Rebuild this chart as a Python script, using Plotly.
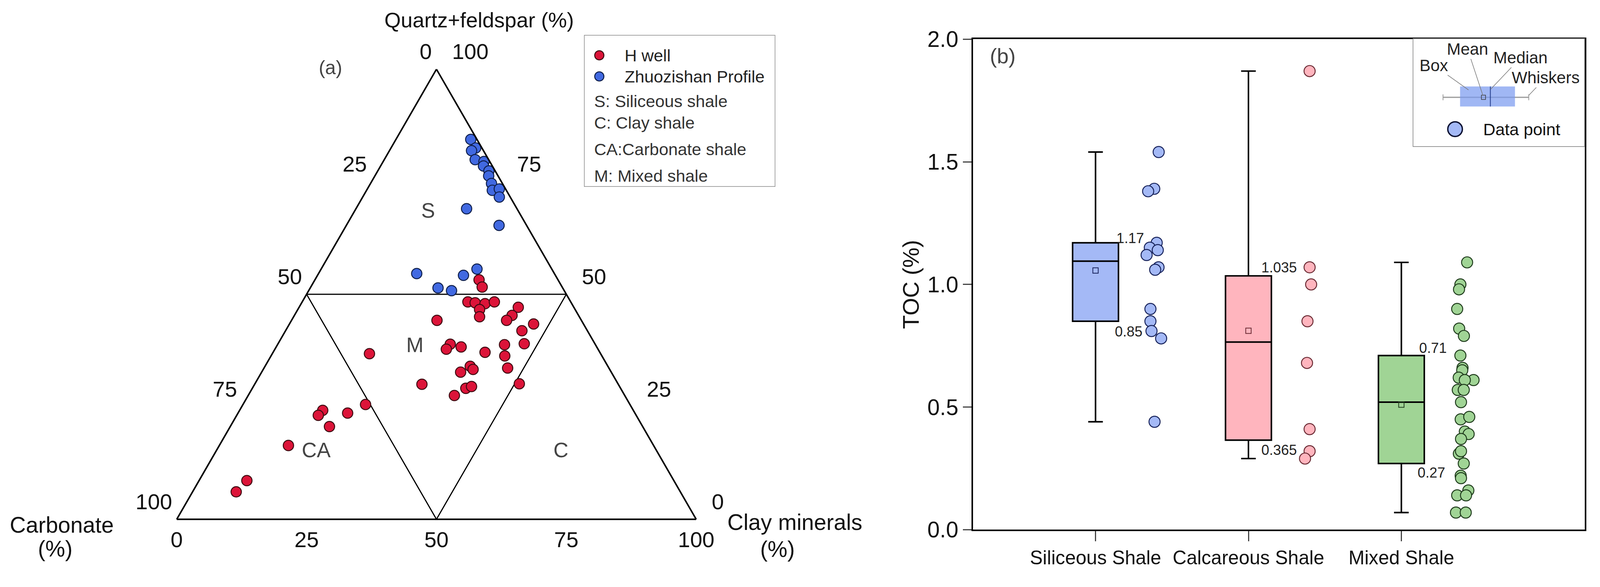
import plotly.graph_objects as go

FONT = "Liberation Sans, Arial, sans-serif"

# ---------------- (a) ternary diagram, values in % ----------------
hwell_qf = [53.2, 51.6, 48.3, 48.1, 47.9, 48.3, 46.6, 45.0, 47.1, 45.3, 44.2, 43.4, 41.9,
            44.2, 38.9, 37.8, 38.3, 37.1, 38.8, 36.3, 39.0, 36.8, 33.6, 32.7, 34.0, 33.3,
            30.1, 30.0, 29.1, 29.5, 27.5, 25.5, 24.2, 23.1, 23.6, 20.6, 16.4, 8.6, 6.1]
hwell_carb = [15.2, 15.4, 19.8, 18.5, 16.7, 14.7, 18.4, 19.2, 10.7, 12.8, 14.4, 9.6, 12.6,
              27.8, 27.9, 29.2, 26.1, 22.1, 17.5, 18.7, 13.6, 44.5, 19.5, 29.0, 26.5, 26.3,
              19.0, 37.8, 29.8, 28.5, 32.8, 50.9, 59.8, 61.2, 55.3, 60.3, 70.3, 82.2, 85.5]
hwell_clay = [31.6, 33.0, 31.9, 33.4, 35.4, 37.0, 35.0, 35.8, 42.2, 41.9, 41.4, 47.0, 45.5,
              28.0, 33.2, 33.0, 35.6, 40.8, 43.7, 45.0, 47.4, 18.7, 46.9, 38.3, 39.5, 40.4,
              50.9, 32.2, 41.1, 42.0, 39.7, 23.6, 16.0, 15.7, 21.1, 19.1, 13.3, 9.2, 8.4]

zzs_qf = [84.4, 82.5, 81.9, 79.9, 79.5, 78.5, 77.4, 76.3, 74.6, 73.1, 73.4, 71.6, 69.0,
          65.3, 54.6, 51.4, 50.8, 54.2, 55.6]
zzs_carb = [1.2, 1.2, 2.3, 2.6, 1.1, 1.7, 1.2, 1.8, 2.1, 2.7, 1.2, 2.1, 9.7,
            5.3, 26.5, 24.0, 21.7, 17.7, 14.4]
zzs_clay = [14.4, 16.3, 15.8, 17.5, 19.4, 19.8, 21.4, 21.9, 23.3, 24.2, 25.4, 26.3, 21.3,
            29.4, 18.9, 24.6, 27.5, 28.1, 30.0]

# inner triangle separating the four shale types
part_qf = [50, 50, 0, 50]
part_carb = [50, 0, 50, 50]
part_clay = [0, 50, 50, 0]

region_names = ["S", "M", "CA", "C"]
region_qf = [68.2, 38.3, 14.9, 14.9]
region_carb = [17.5, 35.0, 65.7, 18.6]
region_clay = [14.3, 26.7, 19.4, 66.5]

tern_ticks = [0, 25, 50, 75, 100]

legend_a = ["S: Siliceous shale", "C: Clay shale", "CA:Carbonate shale", "M: Mixed shale"]

# ---------------- (b) TOC box plot ----------------
groups = ["Siliceous Shale", "Calcareous Shale", "Mixed Shale"]
group_pos = [1, 2, 3]
toc_min = [0.44, 0.29, 0.07]
toc_q1 = [0.85, 0.365, 0.27]
toc_median = [1.095, 0.765, 0.52]
toc_q3 = [1.17, 1.035, 0.71]
toc_max = [1.54, 1.87, 1.09]
toc_mean = [1.057, 0.811, 0.51]
q1_text = ["0.85", "0.365", "0.27"]
q3_text = ["1.17", "1.035", "0.71"]

sil_toc = [1.54, 1.39, 1.38, 1.17, 1.15, 1.14, 1.12, 1.07, 1.06, 0.90, 0.85, 0.81, 0.78, 0.44]
sil_dx = [0.413, 0.384, 0.344, 0.400, 0.355, 0.407, 0.334, 0.412, 0.390, 0.359, 0.359,
          0.366, 0.429, 0.386]
cal_toc = [1.87, 1.07, 1.00, 0.85, 0.68, 0.41, 0.32, 0.29]
cal_dx = [0.40, 0.40, 0.41, 0.386, 0.383, 0.40, 0.40, 0.37]
mix_toc = [1.09, 1.00, 0.98, 0.90, 0.82, 0.79, 0.71, 0.66, 0.65, 0.62, 0.61, 0.61, 0.57,
           0.57, 0.52, 0.45, 0.46, 0.40, 0.39, 0.37, 0.31, 0.32, 0.27, 0.22, 0.21, 0.16,
           0.14, 0.14, 0.07, 0.07]
mix_dx = [0.43, 0.386, 0.377, 0.365, 0.378, 0.409, 0.386, 0.40, 0.398, 0.375, 0.472,
          0.415, 0.369, 0.408, 0.39, 0.388, 0.444, 0.415, 0.44, 0.39, 0.376, 0.39, 0.408,
          0.388, 0.39, 0.438, 0.365, 0.423, 0.357, 0.421]

fills = ["#A4B9F6", "#FFB5BE", "#A0D495"]
edges = ["#17225A", "#6A2A33", "#1F3B1C"]
RED, RED_EDGE = "#DC1439", "#3D0A10"
BLUE, BLUE_EDGE = "#4169E1", "#0E1E4A"
CLEAR = "rgba(0,0,0,0)"

# page geometry: the shot is ~1.7% larger than css pixels and the body has an 8px margin
S = 1.0167
W, H = 4083, 1469


def px(X):
    return (X / S - 8) / W


def py(Y):
    return 1 - (Y / S - 8) / H


def k(v):
    return v / S


fig = go.Figure()

# ternary
fig.add_trace(go.Scatterternary(a=part_qf, b=part_carb, c=part_clay, mode="lines",
                                line=dict(color="black", width=k(3)), hoverinfo="skip"))
fig.add_trace(go.Scatterternary(a=hwell_qf, b=hwell_carb, c=hwell_clay, mode="markers",
                                name="H well",
                                marker=dict(color=RED, size=k(27), line=dict(color=RED_EDGE, width=k(2.5)))))
fig.add_trace(go.Scatterternary(a=zzs_qf, b=zzs_carb, c=zzs_clay, mode="markers",
                                name="Zhuozishan Profile",
                                marker=dict(color=BLUE, size=k(27), line=dict(color=BLUE_EDGE, width=k(2.5)))))
fig.add_trace(go.Scatterternary(a=region_qf, b=region_carb, c=region_clay, mode="text",
                                text=region_names, hoverinfo="skip",
                                textfont=dict(size=k(54), color="#444", family=FONT)))

# edge labels: carbonate on the left edge, clay on the bottom, quartz on the right
tick_font = dict(size=k(57), color="#111", family=FONT)
fig.add_trace(go.Scatterternary(a=[100 - t for t in tern_ticks], b=tern_ticks,
                                c=[0] * len(tern_ticks), mode="markers+text",
                                text=[str(t) for t in tern_ticks], textposition="top left",
                                marker=dict(size=k(17.6), color=CLEAR), textfont=tick_font,
                                cliponaxis=False, hoverinfo="skip"))
fig.add_trace(go.Scatterternary(a=[0] * len(tern_ticks), b=[100 - t for t in tern_ticks],
                                c=tern_ticks, mode="markers+text",
                                text=[str(t) for t in tern_ticks], textposition="bottom center",
                                marker=dict(size=k(46), color=CLEAR), textfont=tick_font,
                                cliponaxis=False, hoverinfo="skip"))
fig.add_trace(go.Scatterternary(a=tern_ticks, b=[0] * len(tern_ticks),
                                c=[100 - t for t in tern_ticks], mode="markers+text",
                                text=["\u2002" + str(t) for t in tern_ticks],
                                textposition="top right",
                                marker=dict(size=k(17.6), color=CLEAR), textfont=tick_font,
                                cliponaxis=False, hoverinfo="skip"))

# legend of panel (a), drawn in its own small axes
fig.add_trace(go.Scatter(x=[0.08, 0.08], y=[0.866, 0.727], mode="markers",
                         marker=dict(color=[RED, BLUE], size=k(24),
                                     line=dict(color=[RED_EDGE, BLUE_EDGE], width=k(2.5))),
                         xaxis="x2", yaxis="y2", hoverinfo="skip"))

# box plots
for i, g in enumerate(groups):
    fig.add_trace(go.Box(x=[group_pos[i]], q1=[toc_q1[i]], median=[toc_median[i]],
                         q3=[toc_q3[i]], lowerfence=[toc_min[i]], upperfence=[toc_max[i]],
                         name=g, width=0.3, whiskerwidth=0.32, fillcolor=fills[i],
                         line=dict(color="black", width=k(4)), boxpoints=False,
                         hoverinfo="skip"))
    fig.add_trace(go.Scatter(x=[group_pos[i]], y=[toc_mean[i]], mode="markers",
                             marker=dict(symbol="square-open", size=k(14), color=edges[i],
                                         line=dict(width=k(2))), hoverinfo="skip"))

for vals, dx, i in [(sil_toc, sil_dx, 0), (cal_toc, cal_dx, 1), (mix_toc, mix_dx, 2)]:
    fig.add_trace(go.Scatter(x=[group_pos[i] + d for d in dx], y=vals, mode="markers",
                             marker=dict(color=fills[i], size=k(29),
                                         line=dict(color=edges[i], width=k(2.5)))))

# inset legend of panel (b)
fig.add_trace(go.Scatter(x=[0.246], y=[0.163], mode="markers",
                         marker=dict(color=fills[0], size=k(38),
                                     line=dict(color="#0B1030", width=k(3.5))),
                         xaxis="x3", yaxis="y3", hoverinfo="skip"))

hide_ticks = dict(showgrid=False, showline=True, linecolor="black", linewidth=k(4), ticks="",
                  showticklabels=False, title=dict(text=""), min=0)

annotations = [
    dict(text="Quartz+feldspar (%)", x=px(1247), y=py(52), font=dict(size=k(55))),
    dict(text="Carbonate", x=px(161), y=py(1365), font=dict(size=k(58))),
    dict(text="(%)", x=px(144), y=py(1427), font=dict(size=k(58))),
    dict(text="Clay minerals", x=px(2068), y=py(1358), font=dict(size=k(58))),
    dict(text="(%)", x=px(2024), y=py(1428), font=dict(size=k(58))),
    dict(text="(a)", x=px(860), y=py(175), font=dict(size=k(50), color="#444")),
    dict(text="(b)", x=px(2610), y=py(145), font=dict(size=k(55), color="#444")),
]
for a in annotations:
    a.update(xref="paper", yref="paper", xanchor="center", yanchor="middle", showarrow=False)

# legend (a) texts
leg_text_y = [0.565, 0.423, 0.248, 0.073]
legend_notes = [dict(text="H well", x=0.209, y=0.866, font=dict(size=k(44), color="#222")),
                dict(text="Zhuozishan Profile", x=0.209, y=0.727,
                     font=dict(size=k(44), color="#222"))]
legend_notes += [dict(text=t, x=0.048, y=y, font=dict(size=k(44), color="#333"))
                 for t, y in zip(legend_a, leg_text_y)]
for a in legend_notes:
    a.update(xref="x2", yref="y2", xanchor="left", yanchor="middle", showarrow=False)
annotations += legend_notes

# quartile labels
q3_dx, q3_up = [0.226, 0.20, 0.206], [12, 22, 20]
q1_dx, q1_dn = [0.216, 0.20, 0.196], [27, 26, 24]
for i in range(3):
    annotations.append(dict(text=q3_text[i], x=group_pos[i] + q3_dx[i], y=toc_q3[i],
                            yshift=k(q3_up[i]), xref="x", yref="y", xanchor="center",
                            showarrow=False, font=dict(size=k(37), color="#222")))
    annotations.append(dict(text=q1_text[i], x=group_pos[i] + q1_dx[i], y=toc_q1[i],
                            yshift=-k(q1_dn[i]), xref="x", yref="y", xanchor="center",
                            showarrow=False, font=dict(size=k(37), color="#222")))

# inset labels with leader lines
for t, x, y, ax, ay in [("Box", 0.324, 0.525, -90, -64), ("Mean", 0.408, 0.472, -40, -121),
                        ("Median", 0.453, 0.532, 78, -82), ("Whiskers", 0.674, 0.475, 44, -46)]:
    annotations.append(dict(text=t, x=x, y=y, ax=k(ax), ay=k(ay), xref="x3", yref="y3",
                            showarrow=True, arrowhead=0, arrowwidth=1.5, arrowcolor="#777",
                            font=dict(size=k(43), color="#222")))
annotations.append(dict(text="Data point", x=0.404, y=0.163, xref="x3", yref="y3",
                        xanchor="left", showarrow=False, font=dict(size=k(44), color="#111")))

shapes = [
    dict(type="rect", xref="x2", yref="y2", x0=0, x1=1, y0=0, y1=1,
         line=dict(color="#888", width=k(3))),
    dict(type="rect", xref="x3", yref="y3", x0=0, x1=1, y0=0, y1=1,
         line=dict(color="#777", width=k(3))),
    # inset box-plot glyph
    dict(type="line", xref="x3", yref="y3", x0=0.176, x1=0.674, y0=0.457, y1=0.457,
         line=dict(color="#999", width=k(3))),
    dict(type="line", xref="x3", yref="y3", x0=0.176, x1=0.176, y0=0.43, y1=0.484,
         line=dict(color="#999", width=k(2))),
    dict(type="line", xref="x3", yref="y3", x0=0.674, x1=0.674, y0=0.43, y1=0.484,
         line=dict(color="#999", width=k(2))),
    dict(type="rect", xref="x3", yref="y3", x0=0.275, x1=0.594, y0=0.372, y1=0.557,
         fillcolor="rgba(120,152,240,0.7)", line=dict(width=0)),
    dict(type="line", xref="x3", yref="y3", x0=0.451, x1=0.451, y0=0.372, y1=0.557,
         line=dict(color="#1F3A8A", width=k(2))),
    dict(type="rect", xref="x3", yref="y3", x0=0.399, x1=0.423, y0=0.437, y1=0.477,
         line=dict(color="#333", width=k(1.5))),
]

fig.update_layout(
    width=W, height=H, margin=dict(l=0, r=0, t=0, b=0, autoexpand=False),
    paper_bgcolor="white", plot_bgcolor="white", showlegend=False,
    font=dict(family=FONT, size=k(57), color="#111"),
    ternary=dict(sum=100, bgcolor="white",
                 domain=dict(x=[px(460), px(1812)], y=[py(1351), py(180)]),
                 aaxis=hide_ticks, baxis=hide_ticks, caxis=hide_ticks),
    xaxis=dict(domain=[px(2533), px(4125)], range=[0.2, 4.2], tickmode="array",
               tickvals=group_pos, ticktext=groups, tickangle=0, automargin=False,
               ticks="outside", ticklen=k(26), tickwidth=k(3),
               showline=True, linecolor="black", linewidth=k(4), mirror=True, showgrid=False,
               zeroline=False, tickfont=dict(size=k(50), color="#111")),
    yaxis=dict(domain=[py(1378), py(102)], range=[0, 2], tickvals=[0, 0.5, 1.0, 1.5, 2.0],
               tickformat=".1f", ticks="outside", ticklen=k(23), tickwidth=k(3), showline=True,
               linecolor="black", linewidth=k(4), mirror=True, showgrid=False, zeroline=False,
               automargin=False, tickfont=dict(size=k(58), color="#111"),
               title=dict(text="TOC (%)", font=dict(size=k(59)), standoff=k(4))),
    xaxis2=dict(domain=[px(1520), px(2018)], range=[0, 1], visible=False, anchor="y2"),
    yaxis2=dict(domain=[py(486), py(91)], range=[0, 1], visible=False, anchor="x2"),
    xaxis3=dict(domain=[px(3677), px(4125)], range=[0, 1], visible=False, anchor="y3"),
    yaxis3=dict(domain=[py(382), py(100)], range=[0, 1], visible=False, anchor="x3"),
    annotations=annotations, shapes=shapes,
)

fig.write_html("out.html")
